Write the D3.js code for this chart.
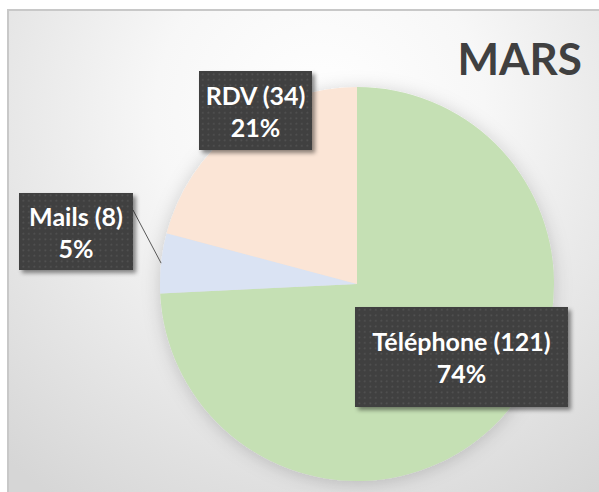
<!DOCTYPE html>
<html>
<head>
<meta charset="utf-8">
<script src="https://cdn.jsdelivr.net/npm/d3@7"></script>
<style>
  body { margin: 0; background: #fff; }
  svg { display: block; }
</style>
</head>
<body>
<div id="chart"></div>
<script>
// data
var categories = ["Téléphone", "Mails", "RDV"];
var counts = [121, 8, 34];
var sliceColors = ["#c5e0b4", "#dae3f3", "#fbe5d6"];
var chartTitle = "MARS";

var svgWidth = 599;
var svgHeight = 492;

var svg = d3.select("#chart")
    .append("svg")
    .attr("width", svgWidth)
    .attr("height", svgHeight)
;

var defs = svg.append("defs");

// background gradient of the chart area
var bg = defs.append("radialGradient")
    .attr("id", "bg")
    .attr("gradientUnits", "userSpaceOnUse")
    .attr("cx", 320).attr("cy", 110).attr("r", 470)
;
bg.append("stop").attr("offset", "0%").attr("stop-color", "#ffffff");
bg.append("stop").attr("offset", "35%").attr("stop-color", "#f7f7f7");
bg.append("stop").attr("offset", "100%").attr("stop-color", "#d6d6d6");

// dotted fill of the label boxes
var pat = defs.append("pattern")
    .attr("id", "dots")
    .attr("patternUnits", "userSpaceOnUse")
    .attr("width", 5.5).attr("height", 5.5)
;
pat.append("rect").attr("width", 5.5).attr("height", 5.5).attr("fill", "#3f3f3f");
pat.append("rect").attr("x", 1.5).attr("y", 1.5).attr("width", 1.6).attr("height", 1.6).attr("fill", "#575757");

var pieShadow = defs.append("filter").attr("id", "pieShadow")
    .attr("x", "-20%").attr("y", "-20%").attr("width", "140%").attr("height", "140%");
pieShadow.append("feDropShadow")
    .attr("dx", 0).attr("dy", 2).attr("stdDeviation", 9)
    .attr("flood-color", "#000").attr("flood-opacity", 0.18);

var boxShadow = defs.append("filter").attr("id", "boxShadow")
    .attr("x", "-20%").attr("y", "-20%").attr("width", "140%").attr("height", "140%");
boxShadow.append("feDropShadow")
    .attr("dx", 3).attr("dy", 3).attr("stdDeviation", 2)
    .attr("flood-color", "#000").attr("flood-opacity", 0.45);

// chart area + border (cropped at right / bottom)
svg.append("rect")
    .attr("x", 8).attr("y", 10)
    .attr("width", svgWidth + 20).attr("height", svgHeight + 20)
    .attr("fill", "url(#bg)")
    .attr("stroke", "#c8c8c8")
    .attr("stroke-width", 2)
;

// Title
svg.append("text")
    .attr("x", 582)
    .attr("y", 75)
    .attr("text-anchor", "end")
    .attr("font-family", "Lato, 'Open Sans', sans-serif")
    .attr("font-weight", "bold")
    .attr("font-size", 44)
    .attr("fill", "#404040")
    .text(chartTitle)
;

// Pie
var cx = 357, cy = 284, radius = 197;
var total = d3.sum(counts);

var slices = categories.map(function(c, i) {
    return { name: c, count: counts[i], color: sliceColors[i] };
});

var pie = d3.pie().sort(null).value(function(d) { return d.count; });
var arcs = pie(slices);

var arc = d3.arc().innerRadius(0).outerRadius(radius);

var pieGroup = svg.append("g")
    .attr("transform", `translate(${cx}, ${cy})`)
;

pieGroup.append("g")
    .attr("filter", "url(#pieShadow)")
    .selectAll("path")
    .data(arcs)
    .enter()
    .append("path")
    .attr("d", arc)
    .attr("fill", function(d) { return d.data.color; })
;

// label boxes (offsets from pie centre, box sizes as in the picture)
var labelLayout = {
    "Téléphone": { dx: 104.5, dy: 73, w: 213, h: 100 },
    "Mails": { dx: -281, dy: -52.5, w: 114, h: 77, leader: true },
    "RDV": { dx: -101.5, dy: -173.5, w: 113, h: 79 }
};

arcs.forEach(function(d) {
    var lay = labelLayout[d.data.name];
    var pct = Math.round(d.data.count / total * 100);

    if (lay.leader) {
        var mid = (d.startAngle + d.endAngle) / 2;
        var ex = Math.sin(mid) * radius;
        var ey = -Math.cos(mid) * radius;
        pieGroup.append("line")
            .attr("x1", lay.dx + lay.w / 2)
            .attr("y1", lay.dy - lay.h / 2 + 17)
            .attr("x2", ex)
            .attr("y2", ey)
            .attr("stroke", "#595959")
            .attr("stroke-width", 1)
        ;
    }

    var g = pieGroup.append("g")
        .attr("transform", `translate(${lay.dx}, ${lay.dy})`)
    ;

    g.append("rect")
        .attr("x", -lay.w / 2)
        .attr("y", -lay.h / 2)
        .attr("width", lay.w)
        .attr("height", lay.h)
        .attr("fill", "url(#dots)")
        .attr("filter", "url(#boxShadow)")
    ;

    var t = g.append("text")
        .attr("text-anchor", "middle")
        .attr("font-family", "Lato, 'Open Sans', sans-serif")
        .attr("font-weight", "bold")
        .attr("font-size", 25)
        .attr("fill", "#ffffff")
    ;
    t.append("tspan").attr("x", 0).attr("y", -6).text(`${d.data.name} (${d.data.count})`);
    t.append("tspan").attr("x", 0).attr("y", 26).text(`${pct}%`);
});
</script>
</body>
</html>
